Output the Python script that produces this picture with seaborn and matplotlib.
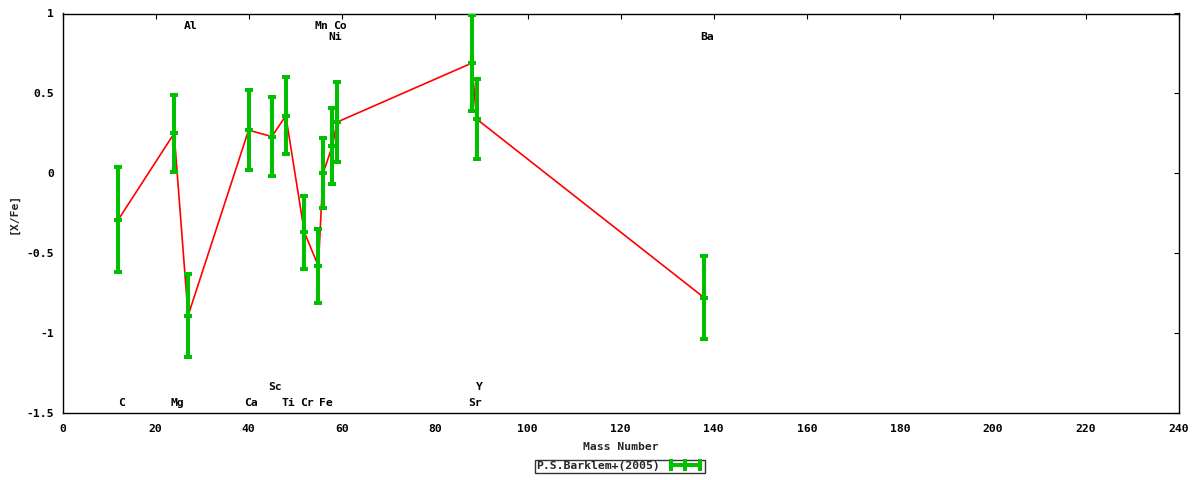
import matplotlib
matplotlib.use('Agg')
import matplotlib.pyplot as plt
from matplotlib.lines import Line2D
from matplotlib.ticker import FormatStrFormatter
import seaborn as sns
import pandas as pd

# abundance data
elements = ['C', 'Mg', 'Al', 'Ca', 'Sc', 'Ti', 'Cr', 'Mn', 'Fe', 'Ni', 'Co', 'Sr', 'Y', 'Ba']
mass = [12, 24, 27, 40, 45, 48, 52, 55, 56, 58, 59, 88, 89, 138]
xfe = [-0.29, 0.25, -0.89, 0.27, 0.23, 0.36, -0.37, -0.58, 0.00, 0.17, 0.32, 0.69, 0.34, -0.78]
err = [0.33, 0.24, 0.26, 0.25, 0.25, 0.24, 0.23, 0.23, 0.22, 0.24, 0.25, 0.30, 0.25, 0.26]
label_y = [-1.44, -1.44, 0.92, -1.44, -1.34, -1.44, -1.44, 0.92, -1.44, 0.85, 0.92, -1.44, -1.34, 0.85]

df = pd.DataFrame({'mass': mass, 'xfe': xfe, 'err': err})

sns.set_theme(style='white')
plt.rcParams['font.family'] = ['DejaVu Sans Mono']
plt.rcParams['font.weight'] = 'bold'
fs = 8.2
green = '#00c000'

fig = plt.figure(figsize=(12, 4.8), dpi=100)
ax = fig.add_axes([62.5 / 1200, 1 - 413 / 480, (1179 - 62.5) / 1200, (413 - 13.5) / 480])

sns.lineplot(data=df, x='mass', y='xfe', color='red', lw=1.2, estimator=None, ax=ax, legend=False)
ax.errorbar(df['mass'], df['xfe'], yerr=df['err'], fmt='_', color=green, ms=6, mew=2.9,
            elinewidth=2.9, capsize=2.9, capthick=2.9, zorder=3)

for el, m, ly in zip(elements, mass, label_y):
    ax.text(m + 0.6, ly, el, ha='center', va='center', fontsize=fs, fontweight='bold', color='black')

ax.set_xlim(0, 240)
ax.set_ylim(-1.5, 1)
ax.set_xticks(range(0, 241, 20))
ax.set_yticks([-1.5, -1, -0.5, 0, 0.5, 1])
ax.yaxis.set_major_formatter(FormatStrFormatter('%g'))
ax.tick_params(direction='in', length=3.3, width=0.8, color='black', top=True, right=True,
               labelsize=fs, pad=6, labelcolor='black')
ax.tick_params(axis='x', pad=8)
for sp in ax.spines.values():
    sp.set_color('black')
    sp.set_linewidth(1.0)

ax.set_xlabel('Mass Number', fontsize=fs, fontweight='bold', labelpad=6)
ax.set_ylabel('[X/Fe]', fontsize=fs, fontweight='bold', labelpad=6)

handle = Line2D([], [], color=green, lw=2.9, marker='|', ms=8, mew=2.9)
leg = fig.legend([handle], ['P.S.Barklem+(2005)'], loc='upper center', bbox_to_anchor=(0.5167, 0.041),
                 numpoints=3, markerfirst=False, fancybox=False, frameon=True, fontsize=fs,
                 handlelength=3.2, borderpad=0.1, borderaxespad=0, handletextpad=0.6)
leg.get_frame().set_edgecolor('black')
leg.get_frame().set_linewidth(1.0)

fig.savefig('out.png', dpi=100)
